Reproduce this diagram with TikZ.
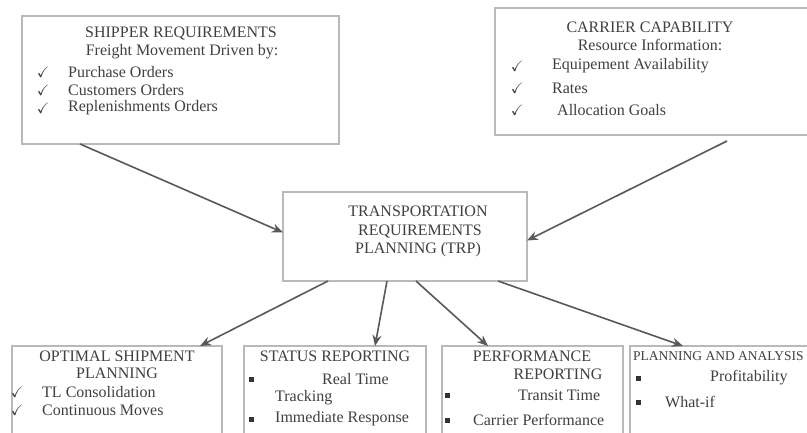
\documentclass[tikz,border=0pt]{standalone}
\usepackage{fontspec}
\setmainfont{Liberation Serif}
\usepackage{amssymb}
\usetikzlibrary{arrows.meta}
\begin{document}
\begin{tikzpicture}[x=1pt,y=-1pt,
  box/.style={draw=gray!55, line width=2pt, inner sep=0pt, outer sep=0pt, fill=white},
  txt/.style={font=\fontsize{16}{18}\selectfont, text=black!75, inner sep=0pt},
  chk/.style={font=\fontsize{15}{16}\selectfont, text=black!75, inner sep=0pt},
  bul/.style={fill=black!80, minimum size=5pt, inner sep=0pt},
  arr/.style={draw=black!65, line width=1.6pt, -{Stealth[length=11pt,width=9pt]}}]
\useasboundingbox (0,0) rectangle (807,432);
\clip (0,0) rectangle (807,432);
\fill[white] (0,0) rectangle (807,432);

% boxes
\node[box, minimum width=317pt, minimum height=128pt] (ship) at (180.5,80) {};
\node[box, minimum width=335pt, minimum height=127pt] (carr) at (662.5,71.5) {};
\node[box, minimum width=244pt, minimum height=89pt] (trp) at (405,236.5) {};
\node[box, minimum width=210pt, minimum height=110pt] (b1) at (117,401) {};
\node[box, minimum width=182pt, minimum height=110pt] (b2) at (335,401) {};
\node[box, minimum width=181pt, minimum height=110pt] (b3) at (532.5,401) {};
\node[box, minimum width=200pt, minimum height=110pt] (b4) at (730,401) {};

% shipper text
\node[txt] (s0) at (181,33) {SHIPPER REQUIREMENTS};
\node[txt] (s1) at (182,52) {Freight Movement Driven by:};
\node[chk] (sc1) at (43,72) {$\checkmark$};
\node[chk] (sc2) at (43,90) {$\checkmark$};
\node[chk] (sc3) at (43,108) {$\checkmark$};
\node[txt, anchor=west] (s2) at (68,72) {Purchase Orders};
\node[txt, anchor=west] (s3) at (68,90) {Customers Orders};
\node[txt, anchor=west] (s4) at (68,108) {Replenishments Orders};

% carrier text
\node[txt] (c0) at (650,27) {CARRIER CAPABILITY};
\node[txt] (c1) at (650,45) {Resource Information:};
\node[chk] (cc1) at (517,66) {$\checkmark$};
\node[chk] (cc2) at (517,88) {$\checkmark$};
\node[chk] (cc3) at (517,110) {$\checkmark$};
\node[txt, anchor=west] (c2) at (552,66) {Equipement Availability};
\node[txt, anchor=west] (c3) at (552,88) {Rates};
\node[txt, anchor=west] (c4) at (557,110) {Allocation Goals};

% TRP text
\node[txt] (t0) at (418,211) {TRANSPORTATION};
\node[txt] (t1) at (420,231) {REQUIREMENTS};
\node[txt] (t2) at (418,250) {PLANNING (TRP)};

% bottom box 1
\node[txt] (o0) at (117,356) {OPTIMAL SHIPMENT};
\node[txt] (o1) at (117,373) {PLANNING};
\node[chk] (oc1) at (17,392) {$\checkmark$};
\node[chk] (oc2) at (17,410) {$\checkmark$};
\node[txt, anchor=west] (o2) at (42,392) {TL Consolidation};
\node[txt, anchor=west] (o3) at (42,410) {Continuous Moves};

% bottom box 2
\node[txt] (r0) at (335,356) {STATUS REPORTING};
\node[bul] (rb1) at (251,379) {};
\node[bul] (rb2) at (251,419) {};
\node[txt, anchor=west] (r1) at (322,379) {Real Time};
\node[txt, anchor=west] (r2) at (275,398) {Tracking};
\node[txt, anchor=west] (r3) at (275,419) {Immediate Response};

% bottom box 3
\node[txt] (p0) at (532,356) {PERFORMANCE};
\node[txt] (p1) at (558,374) {REPORTING};
\node[bul] (pb1) at (447,395) {};
\node[bul] (pb2) at (447,420) {};
\node[txt, anchor=west] (p2) at (518,395) {Transit Time};
\node[txt, anchor=west] (p3) at (473,420) {Carrier Performance};

% bottom box 4
\node[txt, anchor=west, font=\fontsize{13.5}{16}\selectfont] (a0) at (633,356) {PLANNING AND ANALYSIS};
\node[bul] (ab1) at (638,378) {};
\node[bul] (ab2) at (638,402) {};
\node[txt, anchor=west] (a1) at (710,378) {Profitability};
\node[txt, anchor=west] (a2) at (665,402) {What-if};

% connectors
\draw[arr] ([xshift=-100.5pt]ship.south) -- ([yshift=4pt]trp.west);
\draw[arr] ([xshift=64.5pt,yshift=-6pt]carr.south) -- ([yshift=-4pt]trp.east);
\draw[arr] ([xshift=-77pt]trp.south) -- ([xshift=83pt]b1.north);
\draw[arr] ([xshift=-18pt]trp.south) -- ([xshift=40pt]b2.north);
\draw[arr] ([xshift=11pt]trp.south) -- ([xshift=-44.5pt]b3.north);
\draw[arr] ([xshift=93pt]trp.south) -- ([xshift=-47pt]b4.north);
\end{tikzpicture}
\end{document}
